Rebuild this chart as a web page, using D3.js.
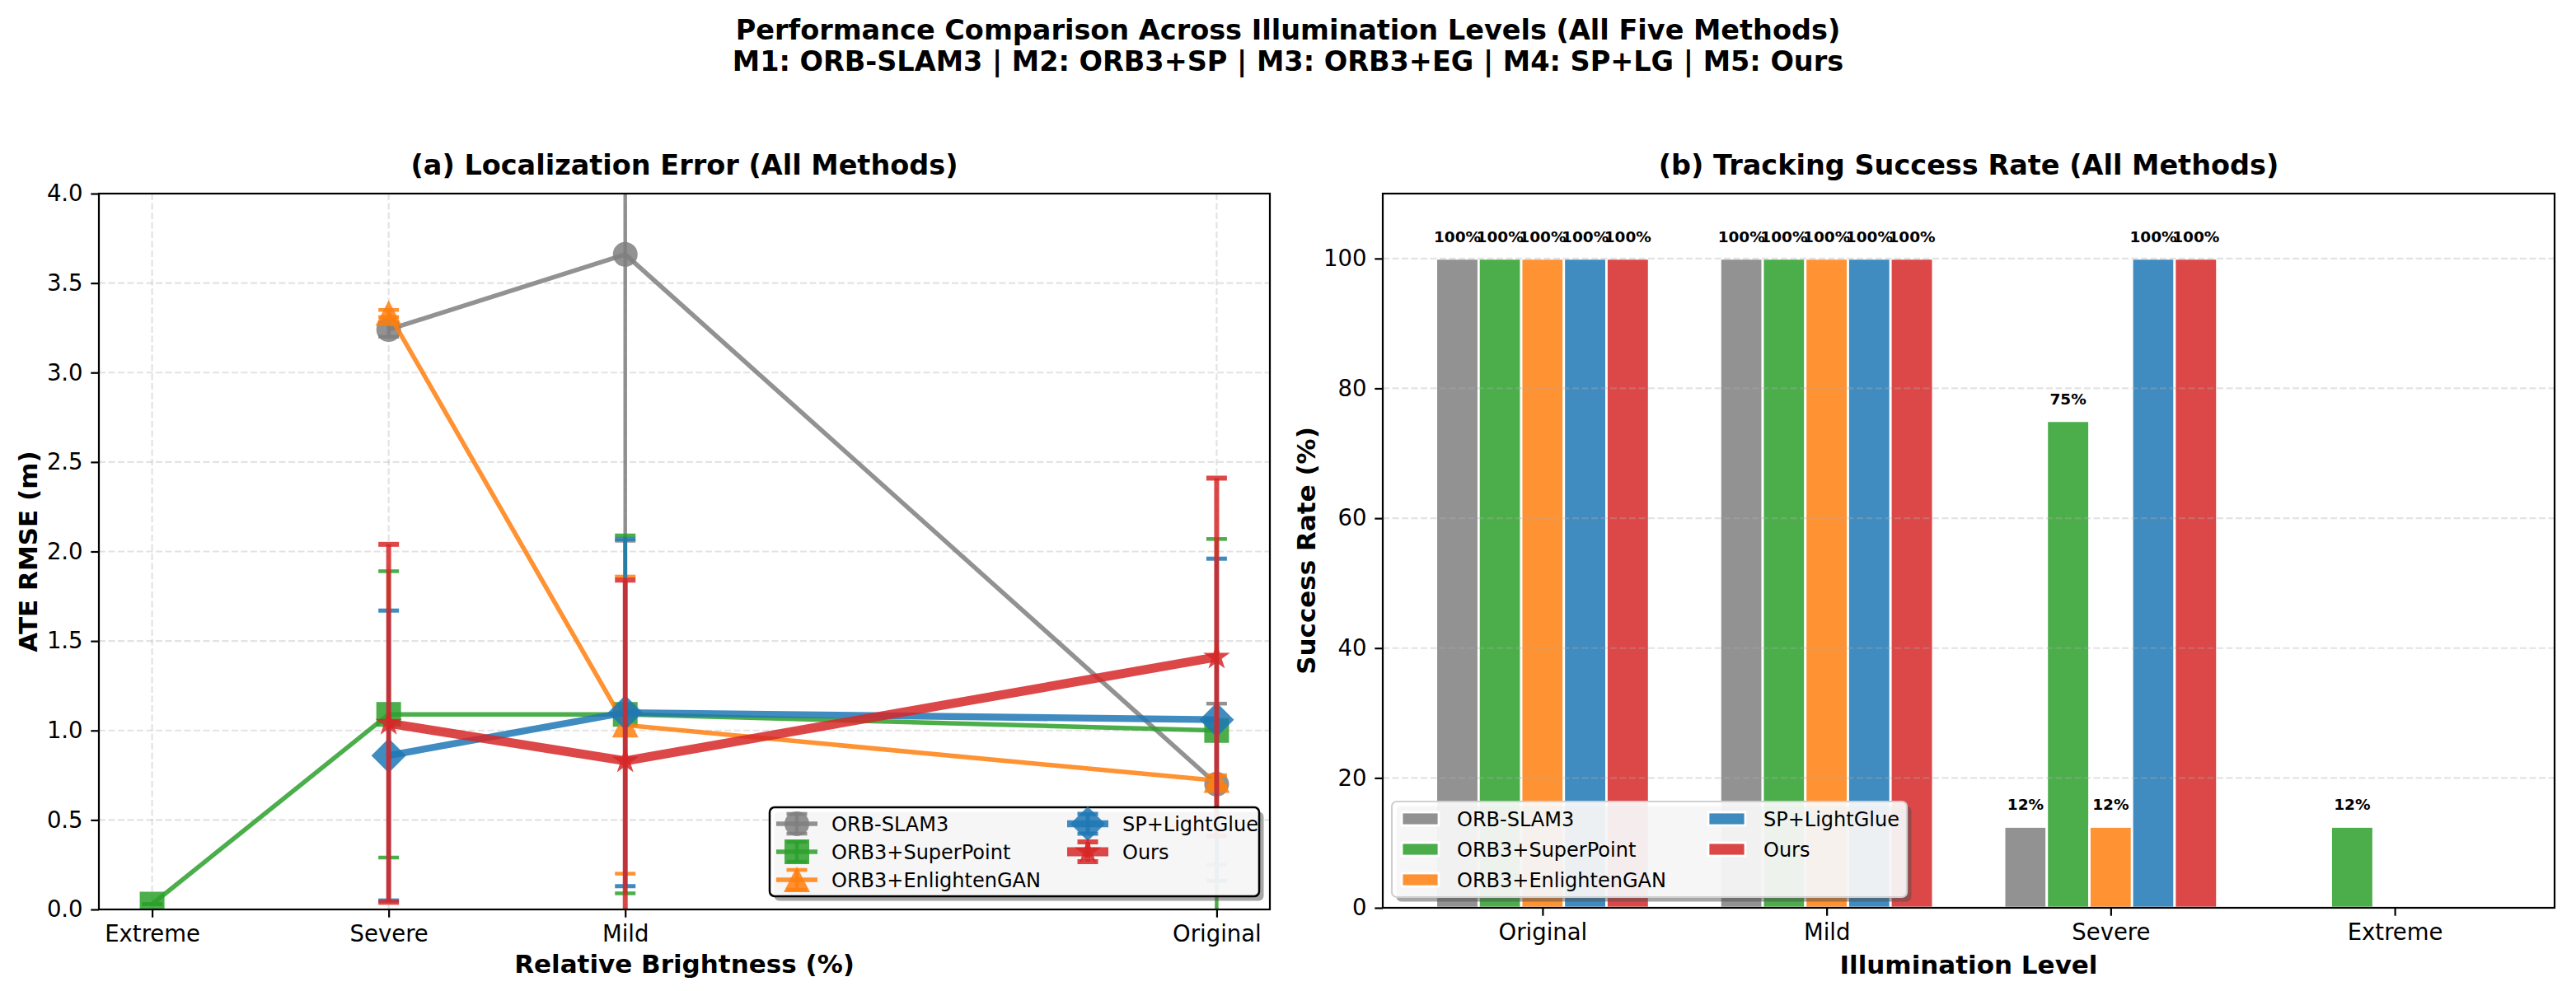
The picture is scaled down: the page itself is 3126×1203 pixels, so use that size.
<!DOCTYPE html>
<html>
<head>
<meta charset="utf-8">
<script src="https://cdn.jsdelivr.net/npm/d3@7"></script>
<style>
body { margin: 0; background: #fff; }
text { font-family: "DejaVu Sans", sans-serif; fill: #000; }
</style>
</head>
<body>
<svg id="fig" width="3126" height="1203"></svg>
<script>
// ---- data ----
const levels = ["Extreme", "Severe", "Mild", "Original"];
const brightness = [10, 30, 50, 100];
const methods = ["ORB-SLAM3", "ORB3+SuperPoint", "ORB3+EnlightenGAN", "SP+LightGlue", "Ours"];

// ATE RMSE mean / std per method, in the order of `levels`
const ate_orbslam3 = [null, 3.24, 3.66, 0.70];
const ate_orbslam3_std = [null, 0.04, 1.60, 0.45];
const ate_superpoint = [0.03, 1.09, 1.09, 1.00];
const ate_superpoint_std = [0.00, 0.80, 1.00, 1.07];
const ate_enlightengan = [null, 3.33, 1.03, 0.72];
const ate_enlightengan_std = [null, 0.02, 0.83, 0.03];
const ate_lightglue = [null, 0.86, 1.10, 1.06];
const ate_lightglue_std = [null, 0.81, 0.97, 0.90];
const ate_ours = [null, 1.04, 0.83, 1.41];
const ate_ours_std = [null, 1.00, 1.01, 1.00];
const ate_ticks = [0, 0.5, 1.0, 1.5, 2.0, 2.5, 3.0, 3.5, 4.0];

// tracking success rate (%), order of `bar_levels`
const bar_levels = ["Original", "Mild", "Severe", "Extreme"];
const rate_orbslam3 = [100, 100, 12.5, 0];
const rate_superpoint = [100, 100, 75, 12.5];
const rate_enlightengan = [100, 100, 12.5, 0];
const rate_lightglue = [100, 100, 100, 0];
const rate_ours = [100, 100, 100, 0];
const rate_ticks = [0, 20, 40, 60, 80, 100];

const colors = ["#7f7f7f", "#2ca02c", "#ff7f0e", "#1f77b4", "#d62728"];
const line_widths = [5.5, 5.5, 5.5, 8.3, 11];
const err_widths = [4.5, 4.5, 4.5, 5, 6];
const marker_kind = ["circle", "square", "triangle", "diamond", "star"];

const ate_means = [ate_orbslam3, ate_superpoint, ate_enlightengan, ate_lightglue, ate_ours];
const ate_stds = [ate_orbslam3_std, ate_superpoint_std, ate_enlightengan_std, ate_lightglue_std, ate_ours_std];
const rates = [rate_orbslam3, rate_superpoint, rate_enlightengan, rate_lightglue, rate_ours];

// ---- layout ----
const ax1 = {left: 120, right: 1541, top: 235, bottom: 1104};
const ax2 = {left: 1678, right: 3100, top: 235, bottom: 1102};
const tick_len = 9.7, tick_pad = 9.7;
const alpha = 0.85;

const svg = d3.select("#fig");

function markerPath(kind) {
    if (kind === "circle") return d3.symbol(d3.symbolCircle, Math.PI * 15 * 15)();
    if (kind === "square") return "M-15,-15H15V15H-15Z";
    if (kind === "triangle") return "M0,-16L16,15L-16,15Z";
    if (kind === "diamond") return "M0,-21L21,0L0,21L-21,0Z";
    const pts = [];
    for (let k = 0; k < 10; k++) {
        const r = k % 2 === 0 ? 17 : 17 * 0.382;
        const a = -Math.PI / 2 + k * Math.PI / 5;
        pts.push([r * Math.cos(a), r * Math.sin(a)]);
    }
    return "M" + pts.map(p => p.join(",")).join("L") + "Z";
}

function roundHalfEven(v) {
    const f = Math.floor(v), r = v - f;
    if (r > 0.5) return f + 1;
    if (r < 0.5) return f;
    return f % 2 === 0 ? f : f + 1;
}

// clip paths
const defs = svg.append("defs");
defs.append("clipPath").attr("id", "clip1").append("rect")
    .attr("x", ax1.left).attr("y", ax1.top)
    .attr("width", ax1.right - ax1.left).attr("height", ax1.bottom - ax1.top);
defs.append("clipPath").attr("id", "clip2").append("rect")
    .attr("x", ax2.left).attr("y", ax2.top)
    .attr("width", ax2.right - ax2.left).attr("height", ax2.bottom - ax2.top);

// ---- titles ----
svg.append("text").attr("x", 1563).attr("y", 48).attr("text-anchor", "middle")
    .attr("font-size", 33.5).attr("font-weight", "bold")
    .text("Performance Comparison Across Illumination Levels (All Five Methods)");
svg.append("text").attr("x", 1563).attr("y", 86).attr("text-anchor", "middle")
    .attr("font-size", 33.5).attr("font-weight", "bold")
    .text("M1: ORB-SLAM3 | M2: ORB3+SP | M3: ORB3+EG | M4: SP+LG | M5: Ours");

// =================== (a) line chart ===================
const x1 = d3.scaleLinear().domain([5.5, 104.5]).range([ax1.left, ax1.right]);
const y1 = d3.scaleLinear().domain([0, 4]).range([ax1.bottom, ax1.top]);

const grid1 = svg.append("g").attr("stroke", "#b0b0b0").attr("stroke-opacity", 0.35)
    .attr("stroke-width", 2.2).attr("stroke-dasharray", "8,3.5");
grid1.selectAll(".gx").data(brightness).enter().append("line")
    .attr("x1", d => x1(d)).attr("x2", d => x1(d))
    .attr("y1", ax1.top).attr("y2", ax1.bottom);
grid1.selectAll(".gy").data(ate_ticks).enter().append("line")
    .attr("x1", ax1.left).attr("x2", ax1.right)
    .attr("y1", d => y1(d)).attr("y2", d => y1(d));

const plot1 = svg.append("g").attr("clip-path", "url(#clip1)");

methods.forEach((m, i) => {
    const pts = brightness.map((b, j) => ({x: b, y: ate_means[i][j], s: ate_stds[i][j]}))
        .filter(p => p.y !== null);
    const g = plot1.append("g");

    // error bars
    const eb = g.append("g").attr("stroke", colors[i]).attr("stroke-opacity", alpha)
        .attr("stroke-width", err_widths[i]);
    pts.forEach(p => {
        eb.append("line").attr("x1", x1(p.x)).attr("x2", x1(p.x))
            .attr("y1", y1(p.y - p.s)).attr("y2", y1(p.y + p.s));
        [p.y - p.s, p.y + p.s].forEach(v => {
            eb.append("line").attr("x1", x1(p.x) - 12.5).attr("x2", x1(p.x) + 12.5)
                .attr("y1", y1(v)).attr("y2", y1(v));
        });
    });

    // connecting line
    g.append("path")
        .attr("d", d3.line().x(p => x1(p.x)).y(p => y1(p.y))(pts))
        .attr("fill", "none").attr("stroke", colors[i]).attr("stroke-opacity", alpha)
        .attr("stroke-width", line_widths[i]).attr("stroke-linejoin", "round");

    // markers
    g.selectAll(".mk").data(pts).enter().append("path")
        .attr("d", markerPath(marker_kind[i]))
        .attr("transform", p => "translate(" + x1(p.x) + "," + y1(p.y) + ")")
        .attr("fill", colors[i]).attr("fill-opacity", alpha);
});

// axes (a)
svg.append("g")
    .attr("transform", "translate(0," + ax1.bottom + ")")
    .call(d3.axisBottom(x1).tickValues(brightness).tickFormat((d, k) => levels[k])
        .tickSize(tick_len).tickPadding(tick_pad))
    .call(g => g.select(".domain").remove())
    .call(g => g.selectAll("line").attr("stroke-width", 2.2))
    .call(g => g.selectAll("text").attr("font-size", 27.5).attr("font-family", "DejaVu Sans"));
svg.append("g")
    .attr("transform", "translate(" + ax1.left + ",0)")
    .call(d3.axisLeft(y1).tickValues(ate_ticks).tickFormat(d3.format(".1f"))
        .tickSize(tick_len).tickPadding(tick_pad))
    .call(g => g.select(".domain").remove())
    .call(g => g.selectAll("line").attr("stroke-width", 2.2))
    .call(g => g.selectAll("text").attr("font-size", 27.5).attr("font-family", "DejaVu Sans"));

svg.append("rect").attr("x", ax1.left).attr("y", ax1.top)
    .attr("width", ax1.right - ax1.left).attr("height", ax1.bottom - ax1.top)
    .attr("fill", "none").attr("stroke", "#000").attr("stroke-width", 2.2);

svg.append("text").attr("x", (ax1.left + ax1.right) / 2).attr("y", 212)
    .attr("text-anchor", "middle").attr("font-size", 33.5).attr("font-weight", "bold")
    .text("(a) Localization Error (All Methods)");
svg.append("text").attr("x", (ax1.left + ax1.right) / 2).attr("y", 1181)
    .attr("text-anchor", "middle").attr("font-size", 31).attr("font-weight", "bold")
    .text("Relative Brightness (%)");
svg.append("text")
    .attr("transform", "translate(45," + (ax1.top + ax1.bottom) / 2 + ") rotate(-90)")
    .attr("text-anchor", "middle").attr("font-size", 31).attr("font-weight", "bold")
    .text("ATE RMSE (m)");

// legend (a)
const leg1 = {x: 934, y: 980, w: 594, h: 108};
const lg1 = svg.append("g");
lg1.append("rect").attr("x", leg1.x + 5.5).attr("y", leg1.y + 5.5)
    .attr("width", leg1.w).attr("height", leg1.h).attr("rx", 6)
    .attr("fill", "#4d4d4d").attr("fill-opacity", 0.5);
lg1.append("rect").attr("x", leg1.x).attr("y", leg1.y)
    .attr("width", leg1.w).attr("height", leg1.h).attr("rx", 6)
    .attr("fill", "#fff").attr("fill-opacity", 0.9)
    .attr("stroke", "#000").attr("stroke-width", 2.5);
const leg1_cols = [942, 1295];
const leg1_rows = [1000, 1034, 1068];
methods.forEach((m, i) => {
    const col = i < 3 ? 0 : 1, row = i < 3 ? i : i - 3;
    const hx = leg1_cols[col], cy = leg1_rows[row], mx = hx + 25;
    const h = lg1.append("g");
    h.append("line").attr("x1", mx).attr("x2", mx).attr("y1", cy - 12).attr("y2", cy + 12)
        .attr("stroke", colors[i]).attr("stroke-opacity", alpha).attr("stroke-width", err_widths[i]);
    [cy - 12, cy + 12].forEach(v => h.append("line")
        .attr("x1", mx - 12.5).attr("x2", mx + 12.5).attr("y1", v).attr("y2", v)
        .attr("stroke", colors[i]).attr("stroke-opacity", alpha).attr("stroke-width", err_widths[i]));
    h.append("line").attr("x1", hx).attr("x2", hx + 50).attr("y1", cy).attr("y2", cy)
        .attr("stroke", colors[i]).attr("stroke-opacity", alpha).attr("stroke-width", line_widths[i]);
    h.append("path").attr("d", markerPath(marker_kind[i]))
        .attr("transform", "translate(" + mx + "," + cy + ")")
        .attr("fill", colors[i]).attr("fill-opacity", alpha);
    lg1.append("text").attr("x", hx + 67).attr("y", cy + 8.6).attr("font-size", 24).text(m);
});

// =================== (b) bar chart ===================
const bar_w = 0.15;
const x2 = d3.scaleLinear().domain([-0.5625, 3.5625]).range([ax2.left, ax2.right]);
const y2 = d3.scaleLinear().domain([0, 110]).range([ax2.bottom, ax2.top]);

const plot2 = svg.append("g").attr("clip-path", "url(#clip2)");
methods.forEach((m, i) => {
    plot2.selectAll(".bar" + i)
        .data(rates[i])
        .enter()
        .append("rect")
            .attr("x", (d, j) => x2(j + (i - 2) * bar_w - bar_w / 2))
            .attr("y", d => y2(d))
            .attr("width", x2(bar_w) - x2(0))
            .attr("height", d => y2(0) - y2(d))
            .attr("fill", colors[i]).attr("fill-opacity", alpha)
            .attr("stroke", "#fff").attr("stroke-width", 2.8);
});

const grid2 = svg.append("g").attr("stroke", "#b0b0b0").attr("stroke-opacity", 0.35)
    .attr("stroke-width", 2.2).attr("stroke-dasharray", "8,3.5");
grid2.selectAll("line").data(rate_ticks).enter().append("line")
    .attr("x1", ax2.left).attr("x2", ax2.right)
    .attr("y1", d => y2(d)).attr("y2", d => y2(d));

methods.forEach((m, i) => {
    svg.selectAll(".lab" + i)
        .data(rates[i].map((v, j) => ({v: v, j: j})).filter(d => d.v > 0))
        .enter()
        .append("text")
            .attr("x", d => x2(d.j + (i - 2) * bar_w))
            .attr("y", d => y2(d.v + 2) - 4.5)
            .attr("text-anchor", "middle").attr("font-size", 18.5).attr("font-weight", "bold")
            .text(d => roundHalfEven(d.v) + "%");
});

svg.append("g")
    .attr("transform", "translate(0," + ax2.bottom + ")")
    .call(d3.axisBottom(x2).tickValues([0, 1, 2, 3]).tickFormat(d => bar_levels[d])
        .tickSize(tick_len).tickPadding(tick_pad))
    .call(g => g.select(".domain").remove())
    .call(g => g.selectAll("line").attr("stroke-width", 2.2))
    .call(g => g.selectAll("text").attr("font-size", 27.5).attr("font-family", "DejaVu Sans"));
svg.append("g")
    .attr("transform", "translate(" + ax2.left + ",0)")
    .call(d3.axisLeft(y2).tickValues(rate_ticks).tickFormat(d3.format("d"))
        .tickSize(tick_len).tickPadding(tick_pad))
    .call(g => g.select(".domain").remove())
    .call(g => g.selectAll("line").attr("stroke-width", 2.2))
    .call(g => g.selectAll("text").attr("font-size", 27.5).attr("font-family", "DejaVu Sans"));

svg.append("rect").attr("x", ax2.left).attr("y", ax2.top)
    .attr("width", ax2.right - ax2.left).attr("height", ax2.bottom - ax2.top)
    .attr("fill", "none").attr("stroke", "#000").attr("stroke-width", 2.2);

svg.append("text").attr("x", (ax2.left + ax2.right) / 2).attr("y", 212)
    .attr("text-anchor", "middle").attr("font-size", 33.5).attr("font-weight", "bold")
    .text("(b) Tracking Success Rate (All Methods)");
svg.append("text").attr("x", (ax2.left + ax2.right) / 2).attr("y", 1182)
    .attr("text-anchor", "middle").attr("font-size", 31).attr("font-weight", "bold")
    .text("Illumination Level");
svg.append("text")
    .attr("transform", "translate(1596," + (ax2.top + ax2.bottom) / 2 + ") rotate(-90)")
    .attr("text-anchor", "middle").attr("font-size", 31).attr("font-weight", "bold")
    .text("Success Rate (%)");

// legend (b)
const leg2 = {x: 1689, y: 973, w: 625, h: 116};
const lg2 = svg.append("g");
lg2.append("rect").attr("x", leg2.x + 5.5).attr("y", leg2.y + 5.5)
    .attr("width", leg2.w).attr("height", leg2.h).attr("rx", 6)
    .attr("fill", "#4d4d4d").attr("fill-opacity", 0.5);
lg2.append("rect").attr("x", leg2.x).attr("y", leg2.y)
    .attr("width", leg2.w).attr("height", leg2.h).attr("rx", 6)
    .attr("fill", "#fff").attr("fill-opacity", 0.9)
    .attr("stroke", "#d0d0d0").attr("stroke-width", 2.2);
const leg2_cols = [1701, 2073];
const leg2_rows = [994, 1031, 1068];
methods.forEach((m, i) => {
    const col = i < 3 ? 0 : 1, row = i < 3 ? i : i - 3;
    const hx = leg2_cols[col], cy = leg2_rows[row];
    lg2.append("rect").attr("x", hx).attr("y", cy - 8).attr("width", 45).attr("height", 16)
        .attr("fill", colors[i]).attr("fill-opacity", alpha)
        .attr("stroke", "#fff").attr("stroke-width", 2.8);
    lg2.append("text").attr("x", hx + 67).attr("y", cy + 8.6).attr("font-size", 24).text(m);
});
</script>
</body>
</html>
